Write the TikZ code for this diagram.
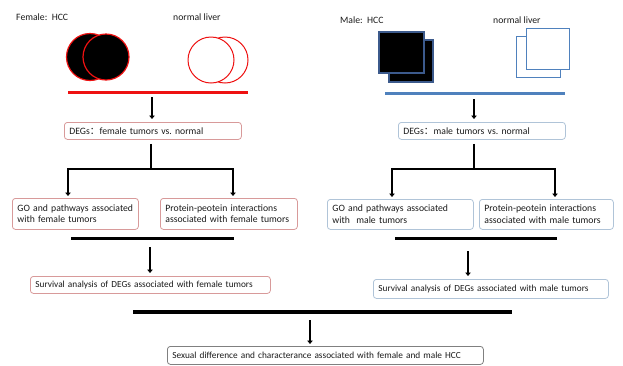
\documentclass[tikz,border=0pt]{standalone}
\usepackage{fontspec}
\setmainfont{Carlito}
\newfontfamily\cjkfont{Noto Sans CJK SC}
\usetikzlibrary{arrows.meta}
\definecolor{femred}{HTML}{EE1111}
\definecolor{femedge}{HTML}{D89A9A}
\definecolor{maleblue}{HTML}{4F81BD}
\definecolor{maleedge}{HTML}{B0C4D8}
\definecolor{sqedge}{HTML}{3C5A8C}
\definecolor{txt}{HTML}{1A1A1A}
\begin{document}
\begin{tikzpicture}[x=1pt,y=-1pt,
  every node/.style={text=txt},
  lbl/.style={font=\fontsize{9.7}{11}\selectfont, inner sep=0pt, anchor=west},
  flowbox/.style={draw, rounded corners=3pt, line width=0.8pt,
    font=\fontsize{9.7}{11.5}\selectfont, align=left,
    inner xsep=5pt, inner ysep=0pt, anchor=north west},
  smalltext/.style={font=\fontsize{9.3}{11}\selectfont},
  fembox/.style={flowbox, draw=femedge},
  malebox/.style={flowbox, draw=maleedge},
  sumbox/.style={flowbox, draw=gray},
  bar/.style={line width=3pt},
  tip/.style={Triangle[length=3.5pt,width=5.5pt]},
  arr/.style={line width=2.4pt, -{Triangle[length=3.5pt,width=5.5pt]}},
  fork/.style={line width=2.4pt, {Triangle[length=3.5pt,width=5.5pt]}-{Triangle[length=3.5pt,width=5.5pt]},
    shorten <=2pt, shorten >=2pt},
]
\useasboundingbox (0,0) rectangle (623,365);

% ---------- female branch: header ----------
\node[lbl] (femHCC) at (16,17) {Female:\ \ HCC};
\node[lbl] (femNorm) at (173,17) {normal liver};
\draw[femred, line width=1.2pt, fill=black] (90,57) circle (23.5);
\draw[femred, line width=1.2pt, fill=black] (106,57) circle (23);
\draw[femred, line width=1pt, fill=white] (225,60) circle (23);
\draw[femred, line width=1pt, fill=white] (211,60) circle (23);
\draw[femred, bar] (68,92) -- (248,92);

% ---------- male branch: header ----------
\node[lbl] (maleHCC) at (340,20) {Male:\ \ HCC};
\node[lbl] (maleNorm) at (493,20) {normal liver};
\draw[sqedge, line width=1.2pt, fill=black] (389,40) rectangle (433,82);
\draw[sqedge, line width=1.2pt, fill=black] (379,32) rectangle (424,73);
\draw[maleblue, line width=1pt, fill=white] (516,36) rectangle (560,77);
\draw[maleblue, line width=1pt, fill=white] (526,28) rectangle (569,69);
\draw[maleblue, bar] (385,93) -- (565,93);

% ---------- boxes ----------
\node[fembox, text width=167pt, minimum height=17pt] (degF) at (64,122)
  {DEGs{\cjkfont ：}female tumors vs.\ normal};
\node[fembox, text width=116pt, minimum height=31pt] (goF) at (12,198)
  {GO and pathways associated\\with female tumors};
\node[fembox, text width=127pt, minimum height=31pt] (ppiF) at (160,198)
  {Protein-peotein interactions\\associated with female tumors};
\node[fembox, smalltext, text width=230pt, minimum height=17pt] (survF) at (30,276)
  {Survival analysis of DEGs associated with female tumors};

\node[malebox, text width=157pt, minimum height=17pt] (degM) at (398,122)
  {DEGs{\cjkfont ：}male tumors vs.\ normal};
\node[malebox, text width=136pt, minimum height=30pt] (goM) at (327,199)
  {GO and pathways associated\\with\ \ male tumors};
\node[malebox, text width=124pt, minimum height=30pt] (ppiM) at (479,199)
  {Protein-peotein interactions\\associated with male tumors};
\node[malebox, smalltext, text width=225pt, minimum height=19pt] (survM) at (373,279)
  {Survival analysis of DEGs associated with male tumors};

\node[sumbox, smalltext, text width=306pt, minimum height=18pt] (final) at (167,346)
  {Sexual difference and characterance associated with female and male HCC};

% ---------- connector anchors ----------
\coordinate (fTop) at (152,97);
\coordinate (fBranch) at (151,169);
\coordinate (fBarL) at (68,169);
\coordinate (fBarR) at (233,169);
\coordinate (fDown) at (150,247);
\coordinate (mTop) at (474,99);
\coordinate (mBranch) at (474,169);
\coordinate (mBarL) at (392,169);
\coordinate (mBarR) at (555,169);
\coordinate (mDown) at (468,251);
\coordinate (allDown) at (310,320);

% ---------- female connectors ----------
\draw[arr, shorten >=3pt] (fTop) -- (fTop |- degF.north);
\draw[line width=2.4pt, shorten <=4pt] (fBranch |- degF.south) -- (fBranch);
\draw[fork] (fBarL |- goF.north) -- (fBarL) -- (fBarR) -- (fBarR |- ppiF.north);
\draw[bar] (71,238) -- (234,238);
\draw[arr, shorten >=3pt] (fDown) -- (fDown |- survF.north);

% ---------- male connectors ----------
\draw[arr, shorten >=3pt] (mTop) -- (mTop |- degM.north);
\draw[line width=2.4pt, shorten <=4pt] (mBranch |- degM.south) -- (mBranch);
\draw[fork] (mBarL |- goM.north) -- (mBarL) -- (mBarR) -- (mBarR |- ppiM.north);
\draw[bar] (395,238) -- (557,238);
\draw[arr, shorten >=3pt] (mDown) -- (mDown |- survM.north);

% ---------- merge ----------
\draw[bar, line width=3.5pt] (133,312) -- (512,312);
\draw[arr, shorten >=2pt] (allDown) -- (allDown |- final.north);
\end{tikzpicture}
\end{document}
